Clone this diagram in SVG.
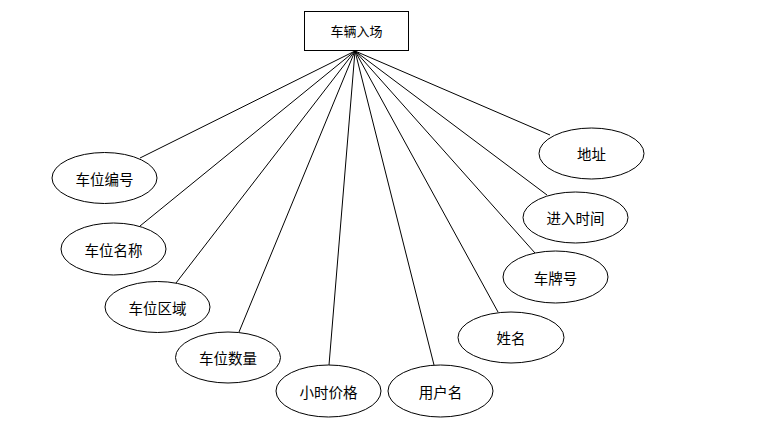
<svg xmlns="http://www.w3.org/2000/svg" width="783" height="435" viewBox="0 0 783 435">
<style>
.n{fill:#fff;stroke:#000;stroke-width:1}
.t{font-family:"Noto Sans CJK SC","Noto Sans",sans-serif;font-size:14.5px;fill:#000;text-anchor:middle;dominant-baseline:central}
.e{stroke:#000;stroke-width:1;fill:none}
</style>
<rect width="783" height="435" fill="#fff"/>
<g id="connectors">
<line class="e" x1="355" y1="51" x2="140" y2="158"/>
<line class="e" x1="355" y1="51" x2="140" y2="226"/>
<line class="e" x1="355" y1="51" x2="176" y2="283"/>
<line class="e" x1="355" y1="51" x2="239" y2="332"/>
<line class="e" x1="355" y1="51" x2="329" y2="365"/>
<line class="e" x1="355" y1="51" x2="434" y2="365"/>
<line class="e" x1="355" y1="51" x2="498" y2="312"/>
<line class="e" x1="355" y1="51" x2="535" y2="253"/>
<line class="e" x1="355" y1="51" x2="547" y2="195"/>
<line class="e" x1="355" y1="51" x2="550" y2="135"/>
</g>
<g id="entity">
<rect class="n" x="304.5" y="11.5" width="104" height="39"/>
<text class="t" x="356.5" y="30" style="font-size:13px">车辆入场</text>
</g>
<g id="a1"><ellipse class="n" cx="104.5" cy="178" rx="52.5" ry="25.5"/><text class="t" x="104.5" y="178">车位编号</text></g>
<g id="a2"><ellipse class="n" cx="113.5" cy="249" rx="52.5" ry="26"/><text class="t" x="113.5" y="249">车位名称</text></g>
<g id="a3"><ellipse class="n" cx="157.5" cy="307" rx="52.5" ry="25.5"/><text class="t" x="157.5" y="307">车位区域</text></g>
<g id="a4"><ellipse class="n" cx="228" cy="357.5" rx="52.5" ry="25.5"/><text class="t" x="228" y="357.5">车位数量</text></g>
<g id="a5"><ellipse class="n" cx="328.5" cy="391" rx="52.5" ry="26"/><text class="t" x="328.5" y="391">小时价格</text></g>
<g id="a6"><ellipse class="n" cx="440.5" cy="391" rx="52.5" ry="26"/><text class="t" x="440.5" y="391">用户名</text></g>
<g id="a7"><ellipse class="n" cx="511" cy="337.5" rx="53" ry="25.5"/><text class="t" x="511" y="337.5">姓名</text></g>
<g id="a8"><ellipse class="n" cx="555.5" cy="277" rx="52.5" ry="26"/><text class="t" x="555.5" y="277">车牌号</text></g>
<g id="a9"><ellipse class="n" cx="575.5" cy="217.5" rx="52.5" ry="25.5"/><text class="t" x="575.5" y="217.5">进入时间</text></g>
<g id="a10"><ellipse class="n" cx="591.5" cy="153.5" rx="52.5" ry="25.5"/><text class="t" x="591.5" y="153.5">地址</text></g>
</svg>
